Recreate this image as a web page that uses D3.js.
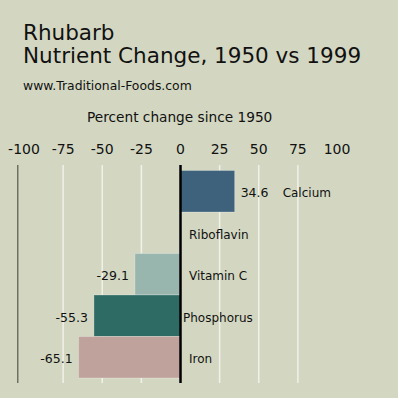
<!DOCTYPE html>
<html>
<head>
<meta charset="utf-8">
<script src="https://cdn.jsdelivr.net/npm/d3@7"></script>
<style>
  html, body { margin: 0; padding: 0; background: #d3d7c1; }
  svg { display: block; font-family: "DejaVu Sans", sans-serif; }
</style>
</head>
<body>
<div id="chart"></div>
<script>
// data
var categories = ["Calcium", "Riboflavin", "Vitamin C", "Phosphorus", "Iron"];
var values = [34.6, null, -29.1, -55.3, -65.1];
var tickValues = [-100, -75, -50, -25, 0, 25, 50, 75, 100];
var barColors = ["#3e627c", "#8a9a90", "#98b5ae", "#2e6b64", "#bfa29b"];

var W = 398, H = 398;
var svg = d3.select("#chart").append("svg")
  .attr("width", W)
  .attr("height", H);

svg.append("rect").attr("width", W).attr("height", H).attr("fill", "#d3d7c1");

// scales
var x = d3.scaleLinear().domain([-100, 100]).range([24, 337]);
var y = d3.scaleBand().domain(categories).range([170.5, 378]).padding(0);
var color = d3.scaleOrdinal().domain(categories).range(barColors);

var data = categories.map(function(c, i) { return { name: c, value: values[i] }; });

// titles
svg.append("text").attr("x", 23).attr("y", 40)
  .attr("font-size", 21.5).attr("fill", "#111").text("Rhubarb");
svg.append("text").attr("x", 23).attr("y", 63)
  .attr("font-size", 21.5).attr("fill", "#111").text("Nutrient Change, 1950 vs 1999");
svg.append("text").attr("x", 23).attr("y", 90)
  .attr("font-size", 12.4).attr("fill", "#111").text("www.Traditional-Foods.com");
svg.append("text").attr("x", 87).attr("y", 122)
  .attr("font-size", 13.7).attr("fill", "#111").text("Percent change since 1950");

// tick labels
svg.selectAll(".tick-label")
  .data(tickValues)
  .enter()
  .append("text")
  .attr("class", "tick-label")
  .attr("x", function(d) { return x(d); })
  .attr("y", 154)
  .attr("text-anchor", "middle")
  .attr("font-size", 14)
  .attr("fill", "#111")
  .text(function(d) { return String(d); });

// grid lines
var gridTop = 165, gridBottom = 383;
svg.selectAll(".grid")
  .data(tickValues.filter(function(d) { return d !== 0 && Math.abs(d) < 100; }))
  .enter()
  .append("line")
  .attr("class", "grid")
  .attr("x1", function(d) { return x(d); })
  .attr("x2", function(d) { return x(d); })
  .attr("y1", gridTop)
  .attr("y2", gridBottom)
  .attr("stroke", "#f0f1e8")
  .attr("stroke-width", 1.5);

// left frame line
svg.append("line")
  .attr("x1", x(-104)).attr("x2", x(-104))
  .attr("y1", gridTop).attr("y2", gridBottom)
  .attr("stroke", "#6e7062")
  .attr("stroke-width", 1.5);

// bars
var withValue = data.filter(function(d) { return d.value !== null; });
svg.selectAll(".bar")
  .data(withValue)
  .enter()
  .append("rect")
  .attr("class", "bar")
  .attr("x", function(d) { return x(Math.min(0, d.value)); })
  .attr("y", function(d) { return y(d.name); })
  .attr("width", function(d) { return Math.abs(x(d.value) - x(0)); })
  .attr("height", y.bandwidth())
  .attr("fill", function(d) { return color(d.name); })
  .attr("stroke", "rgba(255,255,255,0.25)")
  .attr("stroke-width", 1);

// zero line
svg.append("line")
  .attr("x1", x(0)).attr("x2", x(0))
  .attr("y1", gridTop).attr("y2", gridBottom)
  .attr("stroke", "#000")
  .attr("stroke-width", 2.5);

// value labels
svg.selectAll(".value")
  .data(withValue)
  .enter()
  .append("text")
  .attr("class", "value")
  .attr("x", function(d) { return d.value >= 0 ? x(d.value) + 6 : x(d.value) - 6; })
  .attr("y", function(d) { return y(d.name) + y.bandwidth() / 2 + 1.5; })
  .attr("dy", "0.36em")
  .attr("text-anchor", function(d) { return d.value >= 0 ? "start" : "end"; })
  .attr("font-size", 12.5)
  .attr("fill", "#111")
  .text(function(d) { return d.value.toFixed(1); });

// category labels (long names are pulled closer to the zero line)
svg.selectAll(".cat")
  .data(data)
  .enter()
  .append("text")
  .attr("class", "cat")
  .attr("y", function(d) { return y(d.name) + y.bandwidth() / 2 + 1.5; })
  .attr("dy", "0.36em")
  .attr("font-size", 12)
  .attr("fill", "#111")
  .text(function(d) { return d.name; })
  .attr("x", function(d) {
    if (d.value !== null && d.value > 0) return x(d.value) + 48;
    return this.getComputedTextLength() > 65 ? x(0) + 2.5 : x(0) + 8.5;
  });
</script>
</body>
</html>
